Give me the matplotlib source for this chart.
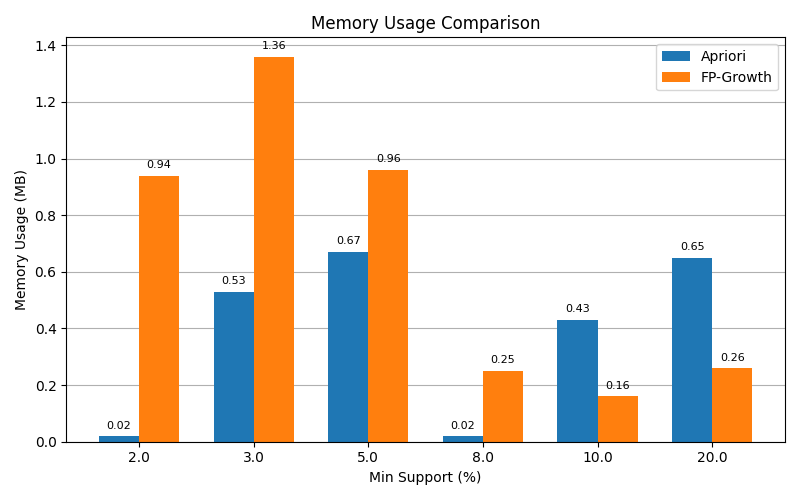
import numpy as np
import matplotlib
matplotlib.use("Agg")
import matplotlib.pyplot as plt

supports = ["2.0", "3.0", "5.0", "8.0", "10.0", "20.0"]
apriori_mem = [0.02, 0.53, 0.67, 0.02, 0.43, 0.65]
fpgrowth_mem = [0.94, 1.36, 0.96, 0.25, 0.16, 0.26]

x = np.arange(len(supports))
width = 0.35

fig, ax = plt.subplots(figsize=(8, 5), dpi=100)
b1 = ax.bar(x - width / 2, apriori_mem, width, label="Apriori", color="#1f77b4")
b2 = ax.bar(x + width / 2, fpgrowth_mem, width, label="FP-Growth", color="#ff7f0e")

for bars in (b1, b2):
    for bar in bars:
        h = bar.get_height()
        ax.annotate(f"{h:.2f}", xy=(bar.get_x() + bar.get_width() / 2, h),
                    xytext=(0, 4), textcoords="offset points",
                    ha="center", va="bottom", fontsize=8)

ax.set_xticks(x)
ax.set_xticklabels(supports)
ax.set_xlabel("Min Support (%)")
ax.set_ylabel("Memory Usage (MB)")
ax.set_title("Memory Usage Comparison")
ax.legend()
ax.yaxis.grid(True)
ax.set_axisbelow(True)

fig.tight_layout()
fig.savefig("out.png")
